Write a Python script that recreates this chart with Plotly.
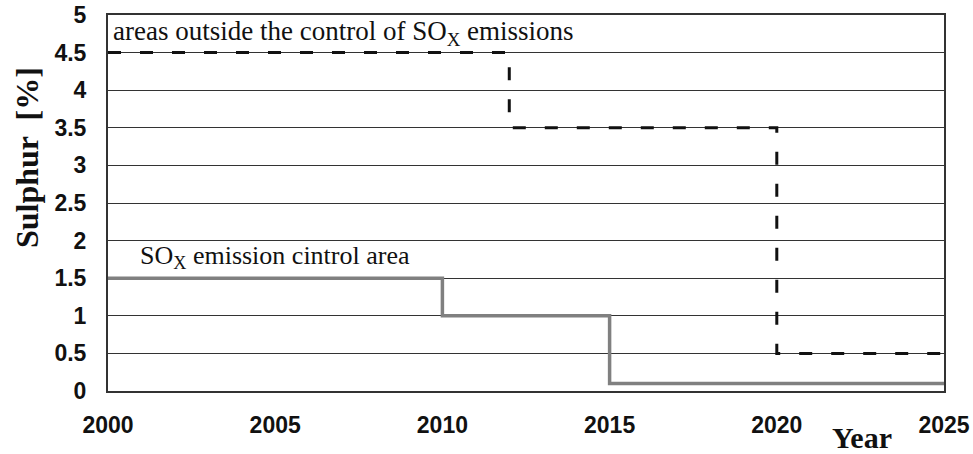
import plotly.graph_objects as go

# sulphur limits (step changes)
eca_years = [2000, 2010, 2010, 2015, 2015, 2025]
eca_sulphur = [1.5, 1.5, 1.0, 1.0, 0.1, 0.1]

global_years = [2000, 2012, 2012, 2020, 2020, 2025]
global_sulphur = [4.5, 4.5, 3.5, 3.5, 0.5, 0.5]

x_ticks = [2000, 2005, 2010, 2015, 2020, 2025]
y_ticks = [0, 0.5, 1, 1.5, 2, 2.5, 3, 3.5, 4, 4.5, 5]
y_labels = ["0", "0.5", "1", "1.5", "2", "2.5", "3", "3.5", "4", "4.5", "5"]

# plot area in window pixels, used to place the free text
L, R, T, B = 108, 944, 15, 391
W, H = 973, 454

def px_to_paper(px, py):
    return (px - L) / (R - L), (B - py) / (B - T)

fig = go.Figure()
fig.add_trace(go.Scatter(x=eca_years, y=eca_sulphur, mode="lines",
                         line=dict(color="#808080", width=3.5), showlegend=False))
fig.add_trace(go.Scatter(x=global_years, y=global_sulphur, mode="lines",
                         line=dict(color="#111111", width=3, dash="13px,19px"),
                         showlegend=False))

tick_font = dict(family="Liberation Sans", size=23, color="#111111", weight="bold")
serif = "Liberation Serif"

fig.update_layout(
    width=W, height=H,
    margin=dict(l=L, r=W - R, t=T, b=H - B, autoexpand=False),
    plot_bgcolor="white", paper_bgcolor="white",
    xaxis=dict(range=[2000, 2025], tickvals=x_ticks, showgrid=False,
               showline=True, linecolor="#333333", linewidth=2, mirror=True,
               tickfont=tick_font, ticks="", zeroline=False,
               ticklabelstandoff=12, automargin=False),
    # invisible outside ticks push the labels away from the axis line
    yaxis=dict(range=[0, 5], tickvals=y_ticks, ticktext=y_labels,
               showgrid=True, gridcolor="#333333", gridwidth=1,
               showline=True, linecolor="#333333", linewidth=2, mirror=True,
               tickfont=tick_font, ticks="outside", ticklen=15,
               tickcolor="rgba(0,0,0,0)", zeroline=False, automargin=False),
)

fig.add_annotation(x=2000, y=4.76, xref="x", yref="y", xanchor="left",
                   text="areas outside the control of SO<sub>X</sub> emissions",
                   showarrow=False, xshift=3,
                   font=dict(family=serif, size=27, color="#111111"))
fig.add_annotation(x=2000.9, y=1.78, xref="x", yref="y", xanchor="left",
                   text="SO<sub>X</sub> emission cintrol area",
                   showarrow=False,
                   font=dict(family=serif, size=26, color="#111111"))

yx, yy = px_to_paper(862, 437)
fig.add_annotation(x=yx, y=yy, xref="paper", yref="paper",
                   xanchor="center", yanchor="middle",
                   text="<b>Year</b>", showarrow=False,
                   font=dict(family=serif, size=30, color="#111111"))

sx, sy = px_to_paper(27, 158)
fig.add_annotation(x=sx, y=sy, xref="paper", yref="paper",
                   xanchor="center", yanchor="middle", textangle=-90,
                   text="<b>Sulphur  [%]</b>", showarrow=False,
                   font=dict(family=serif, size=32, color="#111111"))

# drop the default body margin so the figure fills the window exactly
fig.write_html("out.html", config={"displayModeBar": False},
               post_script="document.body.style.margin='0';"
                           "document.body.style.overflow='hidden';")
